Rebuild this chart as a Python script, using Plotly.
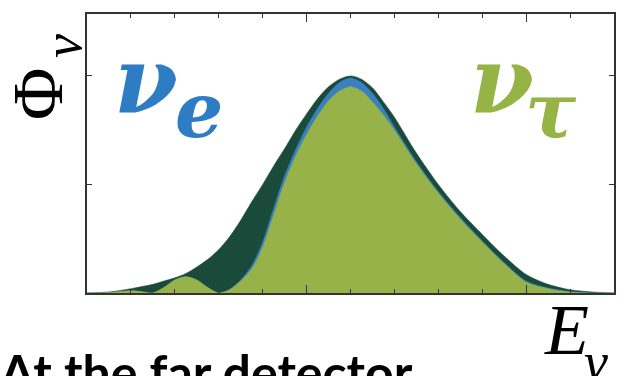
import plotly.graph_objects as go

# Neutrino energy grid (arbitrary units) and fluxes at the far detector
energy = [0, 0.5, 1.0, 1.25, 1.5, 1.75, 2.0, 2.25, 2.5, 2.75, 3.0, 3.25, 3.5, 3.75,
          4.0, 4.25, 4.5, 4.75, 5.0, 5.25, 5.5, 5.75, 6.0, 6.25, 6.5, 6.75, 7.0,
          7.5, 8.0, 8.5, 9.0, 9.5, 10.0, 10.5, 11.0, 11.5, 12.0]

flux_total = [0.0, 0.01, 0.04, 0.06, 0.08, 0.11, 0.14, 0.18, 0.24, 0.31, 0.40, 0.52,
              0.67, 0.84, 1.00, 1.17, 1.33, 1.50, 1.65, 1.79, 1.90, 1.97, 2.00, 1.97,
              1.89, 1.76, 1.62, 1.29, 1.00, 0.75, 0.54, 0.34, 0.17, 0.08, 0.03, 0.01, 0.0]

flux_nue = [0.0, 0.005, 0.02, 0.012, 0.0, 0.05, 0.12, 0.15, 0.12, 0.05, 0.0, 0.035,
            0.12, 0.25, 0.47, 0.78, 1.08, 1.32, 1.53, 1.70, 1.84, 1.94, 1.98, 1.94,
            1.84, 1.70, 1.53, 1.21, 0.935, 0.695, 0.48, 0.28, 0.11, 0.045, 0.012, 0.0, 0.0]

flux_nutau = [0.0, 0.005, 0.02, 0.012, 0.0, 0.05, 0.12, 0.15, 0.12, 0.05, 0.0, 0.03,
              0.11, 0.22, 0.42, 0.72, 1.02, 1.26, 1.46, 1.63, 1.77, 1.86, 1.90, 1.86,
              1.76, 1.64, 1.50, 1.19, 0.92, 0.68, 0.47, 0.27, 0.10, 0.04, 0.01, 0.0, 0.0]

x_range = [0, 12]
y_range = [0, 2.57]
y_ticks = [1, 2]

DARK = "rgb(26,74,58)"
BLUE = "rgb(56,128,192)"
OLIVE = "rgb(151,178,72)"
LABEL_BLUE = "rgb(46,124,196)"
LABEL_OLIVE = "rgb(150,179,69)"

fig = go.Figure()
for ys, col in [(flux_total, DARK), (flux_nue, BLUE), (flux_nutau, OLIVE)]:
    fig.add_trace(go.Scatter(
        x=energy, y=ys, mode="lines", fill="tozeroy",
        line=dict(color=col, width=0.5, shape="spline", smoothing=0.8),
        fillcolor=col, hoverinfo="skip", showlegend=False,
    ))

# plot area in pixels: left 87, right 616, top 14, bottom 293
L, R, T, B = 87, 616, 14, 293
W, H = 625, 376


def px(x):
    return (x - L) / (R - L)


def py(y):
    return (B - y) / (B - T)


def label(text, x, y, size, color, family, angle=0):
    fig.add_annotation(
        text=text, x=px(x), y=py(y), xref="paper", yref="paper",
        xanchor="center", yanchor="middle", showarrow=False, textangle=angle,
        font=dict(size=size, color=color, family=family),
    )


SERIF = "Liberation Serif"
label("<b><i>ν</i></b>", 146, 80, 92, LABEL_BLUE, "DejaVu Serif")
label("<b><i>e</i></b>", 199, 110, 76, LABEL_BLUE, "DejaVu Serif")
label("<b><i>ν</i></b>", 504, 80, 92, LABEL_OLIVE, "DejaVu Serif")
label("<b><i>τ</i></b>", 553, 110, 76, LABEL_OLIVE, "DejaVu Serif")

label("Φ", 38, 94, 72, "black", SERIF, angle=-90)
label("<i>ν</i>", 63, 46, 54, "black", SERIF, angle=-90)
label("<i>E</i>", 568, 330, 72, "black", SERIF)
label("<i>ν</i>", 598, 362, 54, "black", SERIF)

fig.add_annotation(
    text="<b>At the far detector</b>", x=px(-3), y=py(372), xref="paper", yref="paper",
    xanchor="left", yanchor="middle", showarrow=False,
    font=dict(size=50, color="black", family="Lato"),
)

axis_common = dict(showgrid=False, zeroline=False, showticklabels=False,
                   showline=True, linecolor="#333", linewidth=1.6,
                   mirror="allticks", ticks="inside", tickcolor="#333")

fig.update_xaxes(range=x_range, tick0=0, dtick=5, ticklen=8, tickwidth=1.2,
                 minor=dict(dtick=1, ticks="inside", ticklen=4, tickcolor="#333", tickwidth=1),
                 **axis_common)
fig.update_yaxes(range=y_range, tickvals=y_ticks, ticklen=5, tickwidth=1.2, **axis_common)

fig.update_layout(
    width=W, height=H, margin=dict(l=L, r=W - R, t=T, b=H - B),
    paper_bgcolor="white", plot_bgcolor="white",
)

fig.write_html("out.html")
